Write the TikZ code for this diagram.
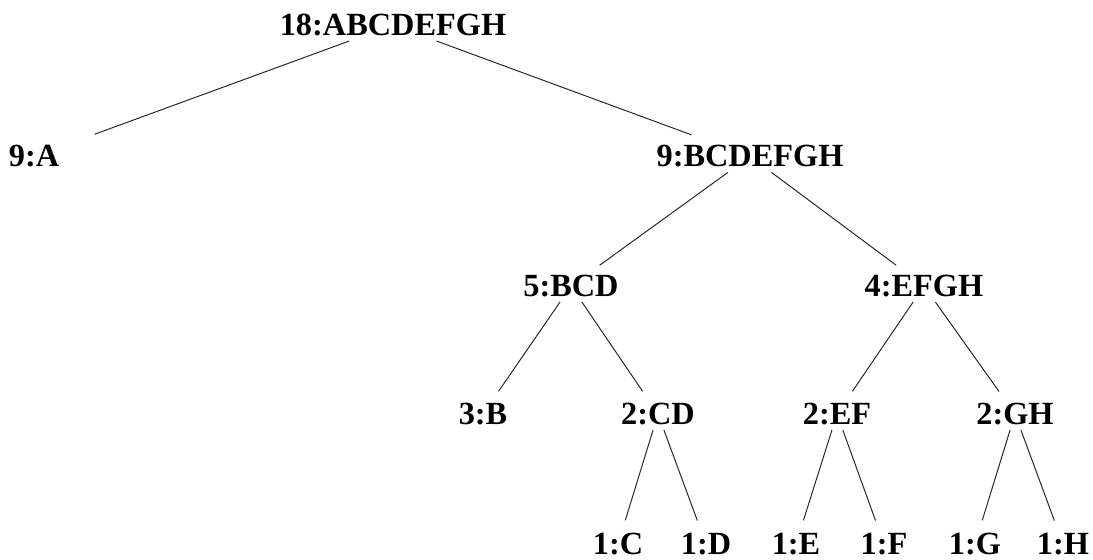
\documentclass[tikz,border=0pt]{standalone}
\usepackage{fontspec}
\setmainfont{Liberation Serif}

\begin{document}
\begin{tikzpicture}[
    tnode/.style={font=\fontsize{23}{27}\selectfont\bfseries, inner xsep=0pt,
                  inner ysep=3.6pt, outer sep=0pt},
    branch/.style={line width=0.7pt, black!85, shorten >=5.7pt}
]
    \useasboundingbox (0, 0) rectangle (27.325, 14);

    % Root
    \node[tnode] (ABCDEFGH) at (9.825, 13.375) {18:ABCDEFGH};

    % Level 1
    \node[tnode] (A) at (0.85, 10.09) {9:A};
    \node[tnode] (BCDEFGH) at (18.75, 10.09) {9:BCDEFGH};

    % Level 2
    \node[tnode] (BCD) at (14.275, 6.85) {5:BCD};
    \node[tnode] (EFGH) at (23.1, 6.85) {4:EFGH};

    % Level 3
    \node[tnode] (B) at (12.075, 3.65) {3:B};
    \node[tnode] (CD) at (16.45, 3.65) {2:CD};
    \node[tnode] (EF) at (20.925, 3.65) {2:EF};
    \node[tnode] (GH) at (25.375, 3.65) {2:GH};

    % Leaves
    \node[tnode] (C) at (15.45, 0.4) {1:C};
    \node[tnode] (D) at (17.65, 0.4) {1:D};
    \node[tnode] (E) at (19.9, 0.4) {1:E};
    \node[tnode] (F) at (22.1, 0.4) {1:F};
    \node[tnode] (G) at (24.375, 0.4) {1:G};
    \node[tnode] (H) at (26.575, 0.4) {1:H};

    % Branches
    \draw[branch, shorten >=27pt] (ABCDEFGH) -- (A);
    \draw[branch, shorten >=11.4pt] (ABCDEFGH) -- (BCDEFGH);
    \draw[branch] (BCDEFGH) -- (BCD);
    \draw[branch] (BCDEFGH) -- (EFGH);
    \draw[branch] (BCD) -- (B);
    \draw[branch] (BCD) -- (CD);
    \draw[branch] (EFGH) -- (EF);
    \draw[branch] (EFGH) -- (GH);
    \draw[branch] (CD) -- (C);
    \draw[branch] (CD) -- (D);
    \draw[branch] (EF) -- (E);
    \draw[branch] (EF) -- (F);
    \draw[branch] (GH) -- (G);
    \draw[branch] (GH) -- (H);

\end{tikzpicture}
\end{document}
